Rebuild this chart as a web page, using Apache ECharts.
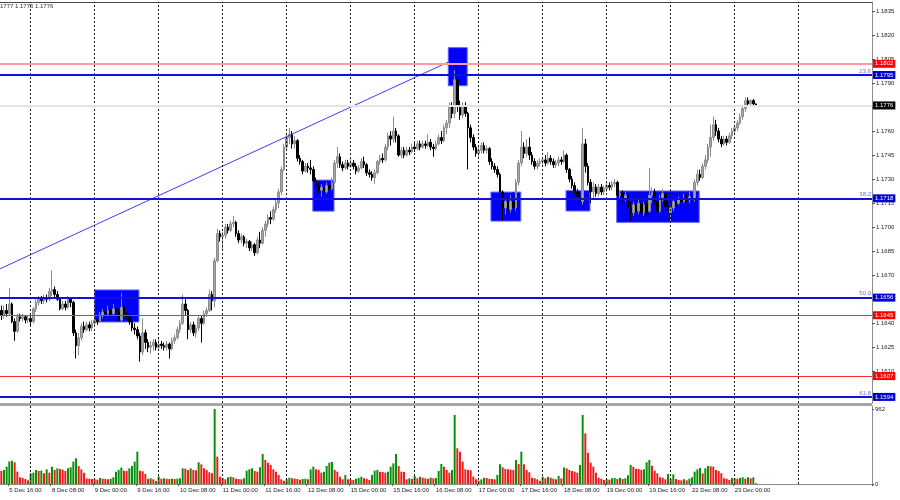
<!DOCTYPE html>
<html><head><meta charset="utf-8">
<script src="https://cdn.jsdelivr.net/npm/echarts@6/dist/echarts.min.js"></script>
<style>html,body{margin:0;padding:0;background:#fff}#c{width:900px;height:500px}</style>
</head><body><div id="c"></div>
<script>
// EURUSD H1 bars: [open, close, low, high]
const candles = [
[1.1648,1.1645,1.1642,1.1651],[1.1645,1.1648,1.1643,1.1651],[1.1648,1.1646,1.1644,1.1652],[1.1646,1.1652,1.1645,1.1662],
[1.1652,1.1641,1.1640,1.1653],[1.1641,1.1635,1.1629,1.1643],[1.1635,1.1644,1.1634,1.1646],[1.1644,1.1643,1.1641,1.1646],
[1.1643,1.1644,1.1641,1.1646],[1.1644,1.1642,1.1640,1.1645],[1.1642,1.1643,1.1640,1.1645],
[1.1643,1.1641,1.1638,1.1645],[1.1641,1.1649,1.1640,1.1650],[1.1649,1.1653,1.1647,1.1655],[1.1653,1.1655,1.1651,1.1657],
[1.1655,1.1654,1.1652,1.1657],[1.1654,1.1656,1.1652,1.1658],[1.1656,1.1655,1.1653,1.1658],[1.1655,1.1660,1.1654,1.1662],
[1.1660,1.1661,1.1657,1.1673],[1.1661,1.1658,1.1656,1.1663],[1.1658,1.1655,1.1654,1.1660],[1.1655,1.1649,1.1648,1.1656],
[1.1649,1.1652,1.1648,1.1654],[1.1652,1.1650,1.1648,1.1654],[1.1650,1.1655,1.1649,1.1657],[1.1655,1.1653,1.1650,1.1656],
[1.1653,1.1634,1.1632,1.1654],[1.1634,1.1626,1.1618,1.1636],[1.1626,1.1631,1.1620,1.1634],[1.1631,1.1638,1.1629,1.1640],
[1.1638,1.1636,1.1634,1.1641],[1.1636,1.1639,1.1635,1.1641],[1.1639,1.1637,1.1635,1.1641],[1.1637,1.1640,1.1635,1.1642],
[1.1640,1.1642,1.1638,1.1644],[1.1642,1.1641,1.1639,1.1644],[1.1641,1.1645,1.1640,1.1647],[1.1645,1.1647,1.1643,1.1649],
[1.1647,1.1646,1.1644,1.1648],[1.1646,1.1648,1.1645,1.1651],[1.1648,1.1646,1.1644,1.1649],[1.1646,1.1649,1.1645,1.1652],
[1.1649,1.1647,1.1643,1.1650],[1.1647,1.1642,1.1641,1.1649],[1.1642,1.1650,1.1641,1.1659],[1.1650,1.1645,1.1643,1.1656],
[1.1645,1.1644,1.1642,1.1647],[1.1644,1.1641,1.1639,1.1646],[1.1641,1.1637,1.1635,1.1643],[1.1637,1.1636,1.1633,1.1640],
[1.1636,1.1632,1.1630,1.1638],[1.1632,1.1622,1.1616,1.1634],[1.1622,1.1634,1.1620,1.1643],[1.1634,1.1628,1.1624,1.1636],
[1.1628,1.1625,1.1622,1.1630],[1.1625,1.1626,1.1621,1.1629],[1.1626,1.1628,1.1623,1.1630],[1.1628,1.1625,1.1623,1.1630],
[1.1625,1.1627,1.1624,1.1630],[1.1627,1.1626,1.1624,1.1629],[1.1626,1.1625,1.1623,1.1628],[1.1625,1.1627,1.1623,1.1629],
[1.1627,1.1624,1.1618,1.1628],[1.1624,1.1629,1.1623,1.1631],[1.1629,1.1631,1.1627,1.1633],[1.1631,1.1636,1.1630,1.1638],
[1.1636,1.1640,1.1634,1.1642],[1.1640,1.1652,1.1639,1.1658],[1.1652,1.1648,1.1645,1.1655],[1.1648,1.1636,1.1630,1.1649],
[1.1636,1.1639,1.1634,1.1641],[1.1639,1.1634,1.1632,1.1641],[1.1634,1.1637,1.1631,1.1639],[1.1637,1.1643,1.1635,1.1645],
[1.1643,1.1640,1.1628,1.1645],[1.1640,1.1646,1.1639,1.1648],[1.1646,1.1648,1.1644,1.1650],[1.1648,1.1658,1.1647,1.1661],
[1.1658,1.1654,1.1648,1.1660],[1.1654,1.1679,1.1650,1.1681],[1.1679,1.1696,1.1678,1.1699],[1.1696,1.1694,1.1691,1.1698],
[1.1694,1.1695,1.1686,1.1697],[1.1695,1.1700,1.1693,1.1702],[1.1700,1.1698,1.1696,1.1702],[1.1698,1.1702,1.1697,1.1704],
[1.1702,1.1703,1.1700,1.1707],[1.1703,1.1696,1.1694,1.1704],[1.1696,1.1692,1.1690,1.1698],[1.1692,1.1694,1.1690,1.1696],
[1.1694,1.1690,1.1688,1.1695],[1.1690,1.1691,1.1687,1.1693],[1.1691,1.1687,1.1685,1.1692],[1.1687,1.1689,1.1685,1.1691],
[1.1689,1.1684,1.1682,1.1690],[1.1684,1.1692,1.1683,1.1694],[1.1692,1.1690,1.1687,1.1697],[1.1690,1.1698,1.1689,1.1700],
[1.1698,1.1702,1.1694,1.1704],[1.1702,1.1706,1.1700,1.1708],[1.1706,1.1705,1.1702,1.1710],[1.1705,1.1711,1.1704,1.1713],
[1.1711,1.1715,1.1709,1.1717],[1.1715,1.1722,1.1712,1.1724],[1.1722,1.1736,1.1720,1.1738],[1.1736,1.1750,1.1735,1.1752],
[1.1750,1.1756,1.1748,1.1759],[1.1756,1.1758,1.1752,1.1762],[1.1758,1.1752,1.1749,1.1760],[1.1752,1.1754,1.1749,1.1757],
[1.1754,1.1743,1.1741,1.1755],[1.1743,1.1741,1.1739,1.1745],[1.1741,1.1735,1.1733,1.1742],[1.1735,1.1738,1.1734,1.1740],
[1.1738,1.1737,1.1734,1.1740],[1.1737,1.1736,1.1733,1.1742],[1.1736,1.1729,1.1728,1.1738],[1.1729,1.1726,1.1724,1.1731],
[1.1726,1.1723,1.1721,1.1728],[1.1723,1.1725,1.1719,1.1727],[1.1725,1.1722,1.1720,1.1727],[1.1722,1.1726,1.1721,1.1728],
[1.1726,1.1724,1.1722,1.1728],[1.1724,1.1728,1.1723,1.1731],[1.1728,1.1740,1.1727,1.1742],[1.1740,1.1744,1.1737,1.1750],
[1.1744,1.1739,1.1737,1.1746],[1.1739,1.1737,1.1735,1.1741],[1.1737,1.1740,1.1736,1.1742],[1.1740,1.1738,1.1736,1.1742],
[1.1738,1.1740,1.1737,1.1743],[1.1740,1.1738,1.1736,1.1742],[1.1738,1.1735,1.1733,1.1740],[1.1735,1.1737,1.1734,1.1739],
[1.1737,1.1741,1.1736,1.1743],[1.1741,1.1739,1.1737,1.1744],[1.1739,1.1734,1.1732,1.1740],[1.1734,1.1733,1.1731,1.1736],
[1.1733,1.1731,1.1729,1.1735],[1.1731,1.1734,1.1727,1.1736],[1.1734,1.1741,1.1733,1.1742],[1.1741,1.1743,1.1739,1.1745],
[1.1743,1.1742,1.1740,1.1746],[1.1742,1.1750,1.1741,1.1752],[1.1750,1.1757,1.1748,1.1759],[1.1757,1.1755,1.1751,1.1760],
[1.1755,1.1760,1.1753,1.1769],[1.1760,1.1757,1.1753,1.1762],[1.1757,1.1745,1.1744,1.1758],[1.1745,1.1748,1.1743,1.1750],
[1.1748,1.1745,1.1743,1.1750],[1.1745,1.1748,1.1744,1.1750],[1.1748,1.1747,1.1745,1.1750],[1.1747,1.1750,1.1746,1.1752],
[1.1750,1.1749,1.1747,1.1753],[1.1749,1.1752,1.1748,1.1754],[1.1752,1.1750,1.1748,1.1754],[1.1750,1.1752,1.1749,1.1754],
[1.1752,1.1751,1.1749,1.1754],[1.1751,1.1753,1.1750,1.1758],[1.1753,1.1750,1.1748,1.1755],[1.1750,1.1749,1.1744,1.1752],
[1.1749,1.1752,1.1748,1.1754],[1.1752,1.1756,1.1751,1.1758],[1.1756,1.1754,1.1752,1.1760],[1.1754,1.1762,1.1753,1.1764],
[1.1762,1.1765,1.1758,1.1767],[1.1765,1.1775,1.1762,1.1778],[1.1775,1.1771,1.1768,1.1778],[1.1771,1.1792,1.1768,1.1798],
[1.1792,1.1776,1.1772,1.1803],[1.1776,1.1770,1.1767,1.1779],[1.1770,1.1776,1.1768,1.1778],[1.1776,1.1771,1.1769,1.1778],
[1.1771,1.1762,1.1736,1.1772],[1.1762,1.1756,1.1753,1.1764],[1.1756,1.1750,1.1748,1.1758],[1.1750,1.1746,1.1744,1.1752],
[1.1746,1.1748,1.1744,1.1750],[1.1748,1.1751,1.1746,1.1753],[1.1751,1.1748,1.1746,1.1753],[1.1748,1.1749,1.1746,1.1751],
[1.1749,1.1741,1.1739,1.1750],[1.1741,1.1738,1.1736,1.1743],[1.1738,1.1736,1.1734,1.1740],[1.1736,1.1733,1.1731,1.1738],
[1.1733,1.1722,1.1720,1.1734],[1.1722,1.1712,1.1704,1.1723],[1.1712,1.1716,1.1708,1.1718],[1.1716,1.1711,1.1707,1.1719],
[1.1711,1.1716,1.1709,1.1720],[1.1716,1.1712,1.1707,1.1722],[1.1712,1.1728,1.1710,1.1730],[1.1728,1.1740,1.1726,1.1742],
[1.1740,1.1750,1.1738,1.1760],[1.1750,1.1746,1.1743,1.1753],[1.1746,1.1750,1.1744,1.1755],[1.1750,1.1745,1.1742,1.1756],
[1.1745,1.1741,1.1739,1.1747],[1.1741,1.1738,1.1736,1.1743],[1.1738,1.1740,1.1736,1.1742],[1.1740,1.1741,1.1738,1.1743],
[1.1741,1.1742,1.1739,1.1744],[1.1742,1.1740,1.1738,1.1745],[1.1740,1.1743,1.1739,1.1747],[1.1743,1.1741,1.1739,1.1745],
[1.1741,1.1739,1.1737,1.1743],[1.1739,1.1740,1.1737,1.1742],[1.1740,1.1742,1.1738,1.1744],[1.1742,1.1741,1.1739,1.1744],
[1.1741,1.1745,1.1740,1.1748],[1.1745,1.1736,1.1734,1.1746],[1.1736,1.1730,1.1728,1.1737],[1.1730,1.1726,1.1724,1.1732],
[1.1726,1.1722,1.1720,1.1728],[1.1722,1.1719,1.1714,1.1724],[1.1719,1.1716,1.1713,1.1722],[1.1716,1.1752,1.1714,1.1762],
[1.1752,1.1738,1.1734,1.1755],[1.1738,1.1728,1.1726,1.1740],[1.1728,1.1722,1.1715,1.1730],[1.1722,1.1725,1.1718,1.1728],
[1.1725,1.1721,1.1719,1.1727],[1.1721,1.1725,1.1719,1.1727],[1.1725,1.1722,1.1720,1.1727],[1.1722,1.1724,1.1720,1.1726],
[1.1724,1.1726,1.1722,1.1728],[1.1726,1.1725,1.1723,1.1728],[1.1725,1.1727,1.1723,1.1729],[1.1727,1.1728,1.1725,1.1730],
[1.1728,1.1720,1.1718,1.1729],[1.1720,1.1721,1.1717,1.1723],[1.1721,1.1718,1.1716,1.1723],[1.1718,1.1720,1.1716,1.1722],
[1.1720,1.1712,1.1710,1.1722],[1.1712,1.1709,1.1704,1.1716],[1.1709,1.1714,1.1707,1.1716],[1.1714,1.1710,1.1708,1.1716],
[1.1710,1.1715,1.1708,1.1717],[1.1715,1.1709,1.1707,1.1716],[1.1709,1.1714,1.1707,1.1716],[1.1714,1.1710,1.1707,1.1716],
[1.1710,1.1720,1.1709,1.1737],[1.1720,1.1722,1.1715,1.1725],[1.1722,1.1716,1.1714,1.1724],[1.1716,1.1710,1.1708,1.1718],
[1.1710,1.1718,1.1709,1.1720],[1.1718,1.1721,1.1716,1.1724],[1.1721,1.1713,1.1710,1.1722],[1.1713,1.1709,1.1705,1.1716],
[1.1709,1.1712,1.1703,1.1714],[1.1712,1.1716,1.1710,1.1718],[1.1716,1.1715,1.1713,1.1718],[1.1715,1.1717,1.1714,1.1719],
[1.1717,1.1716,1.1714,1.1719],[1.1716,1.1718,1.1715,1.1721],[1.1718,1.1717,1.1715,1.1721],[1.1717,1.1719,1.1715,1.1722],
[1.1719,1.1718,1.1715,1.1721],[1.1718,1.1728,1.1716,1.1730],[1.1728,1.1733,1.1726,1.1736],[1.1733,1.1731,1.1729,1.1736],
[1.1731,1.1738,1.1730,1.1740],[1.1738,1.1742,1.1736,1.1745],[1.1742,1.1750,1.1740,1.1752],[1.1750,1.1756,1.1744,1.1764],
[1.1756,1.1764,1.1754,1.1769],[1.1764,1.1760,1.1757,1.1767],[1.1760,1.1755,1.1753,1.1762],[1.1755,1.1752,1.1750,1.1757],
[1.1752,1.1755,1.1751,1.1757],[1.1755,1.1753,1.1751,1.1757],[1.1753,1.1757,1.1752,1.1759],[1.1757,1.1760,1.1755,1.1762],
[1.1760,1.1762,1.1758,1.1764],[1.1762,1.1765,1.1760,1.1767],[1.1765,1.1769,1.1764,1.1771],[1.1769,1.1774,1.1767,1.1776],
[1.1774,1.1779,1.1772,1.1781],[1.1779,1.1777,1.1775,1.1781],[1.1777,1.1779,1.1775,1.1780],[1.1779,1.1777,1.1775,1.1780],
[1.1777,1.1776,1.1775,1.1777]
];
const volumes = [
167,180,222,291,299,278,158,86,77,64,47,
137,145,180,167,171,137,188,145,222,180,201,192,184,167,201,214,287,329,231,188,145,73,68,64,
60,56,77,68,64,60,68,86,158,180,210,171,167,201,231,287,415,171,163,128,68,73,60,38,
98,68,73,68,64,68,64,68,73,201,197,180,201,180,176,278,252,201,180,150,137,962,351,94,
77,60,86,94,86,68,64,60,73,171,188,201,167,158,214,385,308,274,244,188,158,115,60,43,
60,81,73,68,64,56,64,68,60,188,222,188,180,145,158,231,274,282,180,158,94,60,115,60,
56,51,68,77,94,73,68,51,115,171,180,158,154,145,158,222,265,385,231,158,154,60,73,64,
103,73,94,81,73,68,81,73,77,167,257,222,180,145,180,885,458,415,287,188,180,176,94,60,
43,60,81,77,68,64,60,115,252,214,192,188,184,180,308,257,415,252,180,150,81,73,60,43,
94,73,94,81,68,60,103,73,210,201,180,167,158,145,244,885,650,402,274,222,145,81,68,51,
60,56,73,77,64,81,64,73,111,244,222,197,192,180,188,278,308,235,171,137,86,81,60,128,
64,124,64,51,47,60,47,68,86,158,188,205,137,201,231,227,222,180,167,137,73,68,51,77,
73,68,77,86,68,86,73,86,9
];
const timeLabels = ['5 Dec 16:00','8 Dec 08:00','9 Dec 00:00','9 Dec 16:00','10 Dec 08:00','11 Dec 00:00',
  '11 Dec 16:00','12 Dec 08:00','15 Dec 00:00','15 Dec 16:00','16 Dec 08:00','17 Dec 00:00',
  '17 Dec 16:00','18 Dec 08:00','19 Dec 00:00','19 Dec 16:00','22 Dec 08:00','23 Dec 00:00'];
const timeLabelBars = [3,19,35,51,67,83,99,115,131,147,163,179,195,211,227,243,259,275];
const dayStartBars = [11,35,59,83,107,131,155,179,203,227,251,275,299];
const priceTicks = [1.1835,1.1820,1.1805,1.1790,1.1775,1.1760,1.1745,1.1730,1.1715,1.1700,1.1685,1.1670,1.1655,1.1640,1.1625,1.1610];
const volumeTicks = [0, 962];
const levelValues = [1.1802,1.1795,1.1776,1.1718,1.1656,1.1645,1.1607,1.1594];
const levelKinds  = ['peak','fibo','last','fibo','fibo','red','red','fibo'];
const fiboValues = [1.1795,1.1718,1.1656,1.1594];
const fiboNames  = ['23.6','38.2','50.0','61.8'];
const trendLine = [[-0.5,1.1674],[167.5,1.1803]];          // [bar, price]
const zones = [                                             // [fromBar, toBar, low, high]
  [35.0,51.6,1.16408,1.16608],[116.8,124.75,1.17100,1.17294],[167.6,174.7,1.17883,1.18121],
  [183.6,194.8,1.17038,1.17219],[211.75,220.75,1.17101,1.17228],[230.75,261.7,1.17030,1.17226]
];
const headerText = '1777 1.1775 1.1776';
const slotCount = 327;

const FONT = 'Liberation Sans';
const slots = Array.from({length: slotCount}, (_, i) => String(i));
const labelMap = new Map(timeLabelBars.map((b, k) => [b, timeLabels[k]]));
const styleOf = {
  peak: {line:'#ff9c9c', width:2, tag:'#ff0000'},
  fibo: {line:'#1212d6', width:2, tag:'#0000d2'},
  last: {line:'#e3e3e3', width:2, tag:'#000000'},
  red:  {line:'#ff2a2a', width:1, tag:'#ff0000'}
};
function levelItem(v, k) {
  const s = styleOf[k];
  return {
    yAxis: v,
    lineStyle: {color: s.line, width: s.width, type: 'solid'},
    label: {show: true, position: 'end', distance: 1, formatter: v.toFixed(4),
      color: '#fff', backgroundColor: s.tag, padding: [1, 2, 0, 2],
      fontSize: 6, lineHeight: 7, fontFamily: FONT}
  };
}
const overItems = [], underItems = [];
levelValues.forEach((v, i) => (levelKinds[i] === 'last' ? underItems : overItems).push(levelItem(v, levelKinds[i])));

const volData = volumes.map((v, i) => ({
  value: v,
  itemStyle: {color: (i > 0 && v > volumes[i - 1]) ? '#0b8f0b' : '#f31c1c'}
}));

const chart = echarts.init(document.getElementById('c'), null, {renderer: 'canvas'});
chart.setOption({
  animation: false,
  backgroundColor: '#ffffff',
  grid: [
    {left: 0, right: 28, top: 2, height: 401},
    {left: 0, right: 28, top: 406, height: 78}
  ],
  xAxis: [
    {type: 'category', gridIndex: 0, data: slots, boundaryGap: true,
      axisLine: {show: true, onZero: false, lineStyle: {color: '#777'}}, axisTick: {show: false}, axisLabel: {show: false}, splitLine: {show: false}},
    {type: 'value', gridIndex: 0, min: -0.5, max: slotCount - 0.5, position: 'top',
      axisLine: {show: true, onZero: false, lineStyle: {color: '#4a4a4a'}}, axisTick: {show: false}, axisLabel: {show: false}, splitLine: {show: false}},
    {type: 'category', gridIndex: 1, data: slots, boundaryGap: true,
      axisLine: {show: true, onZero: false, lineStyle: {color: '#8c8c8c'}},
      axisTick: {show: true, interval: (i) => labelMap.has(i), length: 2, lineStyle: {color: '#555'}},
      axisLabel: {show: true, interval: (i) => labelMap.has(i), formatter: (v, i) => labelMap.get(i) || '',
        align: 'left', fontSize: 6, margin: 3, color: '#222', fontFamily: FONT},
      splitLine: {show: false}},
    {type: 'value', gridIndex: 1, min: -0.5, max: slotCount - 0.5, show: false}
  ],
  yAxis: [
    {type: 'value', gridIndex: 0, position: 'right', min: 1.15902, max: 1.18406,
      axisLine: {show: true, onZero: false, lineStyle: {color: '#8c8c8c'}},
      axisTick: {show: true, customValues: priceTicks, length: 3, lineStyle: {color: '#555'}},
      axisLabel: {show: true, customValues: priceTicks, formatter: (v) => v.toFixed(4),
        fontSize: 6, margin: 4, color: '#222', fontFamily: FONT},
      splitLine: {show: false}},
    {type: 'value', gridIndex: 1, position: 'right', min: 0, max: 1000,
      axisLine: {show: true, onZero: false, lineStyle: {color: '#8c8c8c'}},
      axisTick: {show: true, customValues: volumeTicks, length: 2, lineStyle: {color: '#555'}},
      axisLabel: {show: true, customValues: volumeTicks, fontSize: 6, margin: 3, color: '#222', fontFamily: FONT},
      splitLine: {show: false}}
  ],
  graphic: [
    {type: 'rect', shape: {x: 0, y: 403, width: 872, height: 3}, style: {fill: '#a6a6a6'}, z: 10},
    {type: 'text', left: 0, top: 3, style: {text: headerText, fontSize: 6, fill: '#333', fontFamily: FONT}, z: 10}
  ],
  series: [
    {name: 'zones', type: 'line', xAxisIndex: 1, yAxisIndex: 0, data: [], z: 1, silent: true,
      markArea: {silent: true, itemStyle: {color: '#0000ff', borderColor: '#6464ff', borderWidth: 1},
        data: zones.map(z => [{coord: [z[0], z[3]]}, {coord: [z[1], z[2]]}])}},
    {name: 'days', type: 'line', xAxisIndex: 1, yAxisIndex: 0, data: [], z: 2, silent: true,
      markLine: {silent: true, precision: 6, symbol: ['none', 'none'], label: {show: false},
        lineStyle: {color: '#1a1a1a', type: [2, 2], width: 1}, data: dayStartBars.map(b => ({xAxis: b}))}},
    {name: 'lastPrice', type: 'line', xAxisIndex: 0, yAxisIndex: 0, data: [], z: 2, silent: true,
      markLine: {silent: true, precision: 6, symbol: ['none', 'none'], data: underItems}},
    {name: 'price', type: 'candlestick', xAxisIndex: 0, yAxisIndex: 0, data: candles, barWidth: 2, z: 3,
      itemStyle: {color: '#a8a8a8', color0: '#000000', borderColor: '#8c8c8c', borderColor0: '#000000', borderWidth: 1}},
    {name: 'levels', type: 'line', xAxisIndex: 0, yAxisIndex: 0, data: [], z: 4, silent: true,
      markLine: {silent: true, precision: 6, symbol: ['none', 'none'], data: overItems}},
    {name: 'fibo', type: 'line', xAxisIndex: 0, yAxisIndex: 0, data: [], z: 4, silent: true,
      markLine: {silent: true, precision: 6, symbol: ['none', 'none'],
        data: fiboValues.map((v, i) => ({yAxis: v, lineStyle: {color: 'rgba(0,0,0,0)', width: 1},
          label: {show: true, position: 'insideEndTop', distance: [1, 1], formatter: fiboNames[i],
            color: '#6a6aff', fontSize: 6, fontFamily: FONT}}))}},
    {name: 'trend', type: 'line', xAxisIndex: 1, yAxisIndex: 0, data: trendLine, symbol: 'none', z: 4,
      lineStyle: {color: '#3c3cff', width: 1}, silent: true},
    {name: 'volDays', type: 'line', xAxisIndex: 3, yAxisIndex: 1, data: [], z: 2, silent: true,
      markLine: {silent: true, precision: 6, symbol: ['none', 'none'], label: {show: false},
        lineStyle: {color: '#1a1a1a', type: [2, 2], width: 1}, data: dayStartBars.map(b => ({xAxis: b}))}},
    {name: 'volume', type: 'bar', xAxisIndex: 2, yAxisIndex: 1, data: volData, barWidth: 2, z: 3}
  ]
});
</script>
</body></html>
